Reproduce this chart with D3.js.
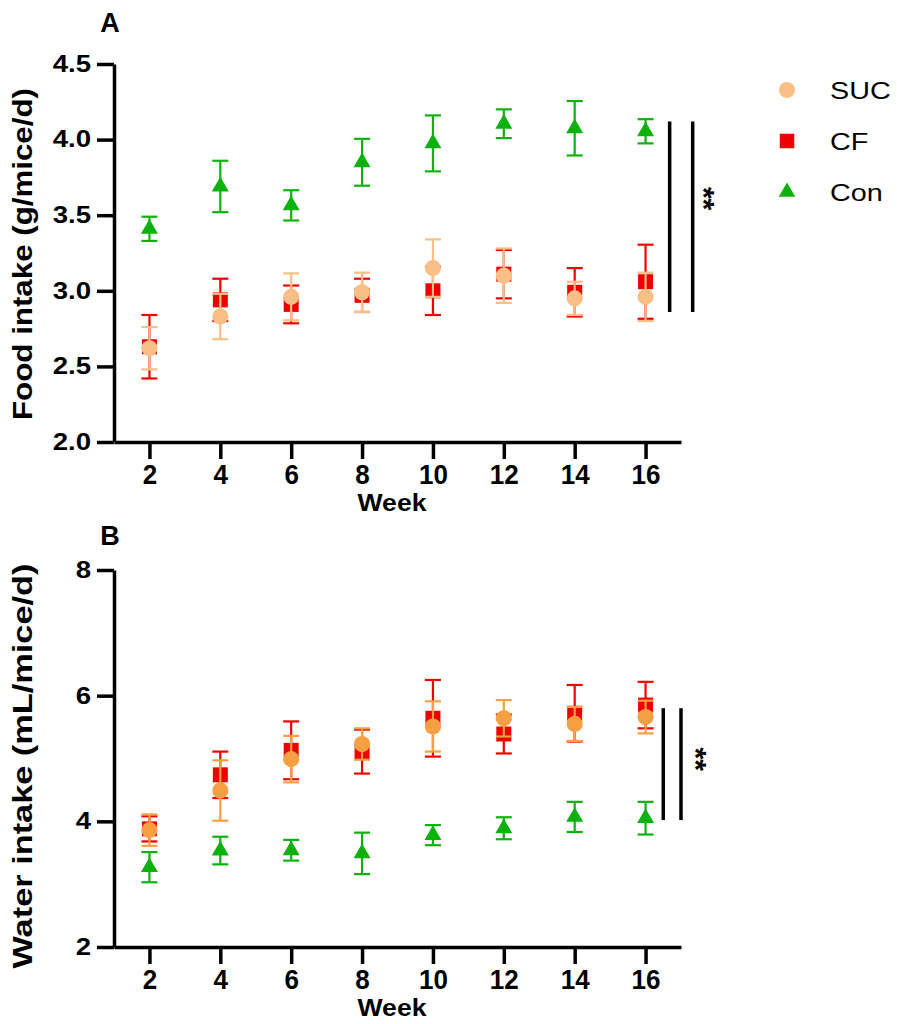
<!DOCTYPE html>
<html>
<head>
<meta charset="utf-8">
<script src="https://cdn.jsdelivr.net/npm/d3@7"></script>
<style>
  body { margin: 0; background: #fff; }
  text { font-family: "Liberation Sans", Arial, sans-serif; }
  .axis path, .axis line { stroke: #000; stroke-width: 3.5; }
  .axis text { font-weight: bold; fill: #000; }
</style>
</head>
<body>
<script>
// weeks on the x axis
var weeks = [2, 4, 6, 8, 10, 12, 14, 16];
var xTicks = [2, 4, 6, 8, 10, 12, 14, 16];

// panel A, food intake (g/mice/d), mean and error
var foodSUC    = [2.62, 2.83, 2.96, 2.99, 3.15, 3.10, 2.95, 2.96];
var foodSUCerr = [0.14, 0.15, 0.155, 0.13, 0.19, 0.18, 0.11, 0.16];
var foodCF     = [2.63, 2.94, 2.91, 2.97, 3.00, 3.11, 2.99, 3.06];
var foodCFerr  = [0.21, 0.14, 0.125, 0.11, 0.16, 0.16, 0.16, 0.245];
var foodCon    = [3.41, 3.69, 3.565, 3.85, 3.975, 4.105, 4.075, 4.055];
var foodConErr = [0.08, 0.17, 0.10, 0.155, 0.185, 0.095, 0.18, 0.08];
var foodTicks  = [2.0, 2.5, 3.0, 3.5, 4.0, 4.5];

// panel B, water intake (mL/mice/d), mean and error
var waterSUC    = [3.86, 4.49, 4.99, 5.23, 5.51, 5.64, 5.55, 5.66];
var waterSUCerr = [0.25, 0.48, 0.37, 0.25, 0.40, 0.29, 0.27, 0.26];
var waterCF     = [3.88, 4.74, 5.13, 5.11, 5.64, 5.39, 5.72, 5.85];
var waterCFerr  = [0.20, 0.37, 0.46, 0.35, 0.61, 0.31, 0.45, 0.37];
var waterCon    = [3.27, 3.535, 3.54, 3.49, 3.78, 3.89, 4.07, 4.05];
var waterConErr = [0.24, 0.22, 0.165, 0.33, 0.16, 0.175, 0.24, 0.26];
var waterTicks  = [2, 4, 6, 8];

var groups = ["SUC", "CF", "Con"];

var w = 897;
var h = 1024;

var svg = d3.select("body")
            .append("svg")
            .attr("width", w)
            .attr("height", h);

// colours
var sucLight = "#f9bf86";
var sucDark = "#f7a043";
var cfRed = "#ee0000";
var conGreen = "#0db10d";

function zip(means, errs) {
  return weeks.map(function(wk, i) {
    return {week: wk, mean: means[i], err: errs[i]};
  });
}

function drawGroup(g, x, y, data, colour, symbol, size) {
  var cap = 8;
  var bars = g.append("g")
              .attr("stroke", colour)
              .attr("stroke-width", 2.2);

  bars.selectAll(".vline")
      .data(data)
      .enter()
      .append("line")
      .attr("x1", function(d) { return x(d.week); })
      .attr("x2", function(d) { return x(d.week); })
      .attr("y1", function(d) { return y(d.mean + d.err); })
      .attr("y2", function(d) { return y(d.mean - d.err); });

  bars.selectAll(".top")
      .data(data)
      .enter()
      .append("line")
      .attr("x1", function(d) { return x(d.week) - cap; })
      .attr("x2", function(d) { return x(d.week) + cap; })
      .attr("y1", function(d) { return y(d.mean + d.err); })
      .attr("y2", function(d) { return y(d.mean + d.err); });

  bars.selectAll(".bottom")
      .data(data)
      .enter()
      .append("line")
      .attr("x1", function(d) { return x(d.week) - cap; })
      .attr("x2", function(d) { return x(d.week) + cap; })
      .attr("y1", function(d) { return y(d.mean - d.err); })
      .attr("y2", function(d) { return y(d.mean - d.err); });

  g.selectAll(".marker")
   .data(data)
   .enter()
   .append("path")
   .attr("d", d3.symbol().type(symbol).size(size))
   .attr("transform", function(d) {
      return "translate(" + x(d.week) + "," + y(d.mean) + ")";
   })
   .attr("fill", colour);
}

function drawPanel(opts) {
  var x = d3.scaleLinear()
            .domain([1, 17])
            .range([114, 681]);
  var y = d3.scaleLinear()
            .domain(opts.domain)
            .range([opts.bottom, opts.top]);

  // x axis, labels a bit condensed like the original
  var xAxis = svg.append("g")
     .attr("class", "axis")
     .attr("transform", "translate(0," + opts.bottom + ")")
     .call(d3.axisBottom(x).tickValues(xTicks).tickSize(17).tickPadding(5).tickSizeOuter(0));
  xAxis.selectAll("text")
       .style("font-size", "28px")
       .attr("transform", "scale(0.93,1)");

  // y axis, labels a bit wide
  var yAxis = svg.append("g")
     .attr("class", "axis")
     .attr("transform", "translate(114,0)")
     .call(d3.axisLeft(y).tickValues(opts.ticks).tickFormat(opts.format)
             .tickSize(17).tickPadding(6).tickSizeOuter(0));
  yAxis.selectAll("text")
       .style("font-size", "23px")
       .attr("x", -23 / 1.2)
       .attr("transform", "scale(1.2,1)");

  // axis titles
  svg.append("text")
     .attr("x", 392)
     .attr("y", opts.bottom + 69)
     .attr("text-anchor", "middle")
     .attr("textLength", 69)
     .attr("lengthAdjust", "spacingAndGlyphs")
     .style("font-size", "23px")
     .style("font-weight", "bold")
     .text("Week");

  svg.append("text")
     .attr("transform", "translate(32," + opts.titleY + ") rotate(-90)")
     .attr("text-anchor", "middle")
     .attr("textLength", opts.titleLength)
     .attr("lengthAdjust", "spacingAndGlyphs")
     .style("font-size", "27px")
     .style("font-weight", "bold")
     .text(opts.title);

  // panel letter
  svg.append("text")
     .attr("x", 110)
     .attr("y", opts.letterY)
     .attr("text-anchor", "middle")
     .style("font-size", "27px")
     .style("font-weight", "bold")
     .text(opts.letter);

  var marks = svg.append("g");
  drawGroup(marks.append("g"), x, y, opts.con, conGreen, d3.symbolTriangle, 125);
  drawGroup(marks.append("g"), x, y, opts.cf, cfRed, d3.symbolSquare, 225);
  drawGroup(marks.append("g"), x, y, opts.suc, opts.sucColour, d3.symbolCircle, 205);

  // significance bars
  var sig = opts.sig;
  [sig.x1, sig.x2].forEach(function(sx) {
    svg.append("line")
       .attr("x1", x(sx)).attr("x2", x(sx))
       .attr("y1", y(sig.y1)).attr("y2", y(sig.y2))
       .attr("stroke", "#000").attr("stroke-width", 3.5);
  });
  svg.append("text")
     .attr("transform", "translate(" + (x(sig.x2) + sig.starShift) + "," + y(sig.starY) + ") rotate(90)")
     .attr("text-anchor", "middle")
     .style("font-size", "30px")
     .style("font-weight", "bold")
     .text("**");
}

drawPanel({
  letter: "A",
  letterY: 32,
  title: "Food intake (g/mice/d)",
  titleY: 254,
  titleLength: 332,
  domain: [2.0, 4.5],
  ticks: foodTicks,
  format: d3.format(".1f"),
  top: 64,
  bottom: 442,
  suc: zip(foodSUC, foodSUCerr),
  cf: zip(foodCF, foodCFerr),
  con: zip(foodCon, foodConErr),
  sucColour: sucLight,
  sig: {x1: 16.68, x2: 17.33, y1: 4.12, y2: 2.86, starY: 3.61, starShift: 1}
});

drawPanel({
  letter: "B",
  letterY: 545,
  title: "Water intake (mL/mice/d)",
  titleY: 766,
  titleLength: 405,
  domain: [2, 8],
  ticks: waterTicks,
  format: d3.format("d"),
  top: 570,
  bottom: 947,
  suc: zip(waterSUC, waterSUCerr),
  cf: zip(waterCF, waterCFerr),
  con: zip(waterCon, waterConErr),
  sucColour: sucDark,
  sig: {x1: 16.5, x2: 17.0, y1: 5.8, y2: 4.02, starY: 4.99, starShift: 5}
});

// legend
var legend = svg.append("g")
                .attr("class", "legend")
                .attr("transform", "translate(787,90)");
var legendColours = [sucLight, cfRed, conGreen];
var legendSymbols = [d3.symbolCircle, d3.symbolSquare, d3.symbolTriangle];
var legendSizes = [200, 210, 120];

groups.forEach(function(name, i) {
  legend.append("path")
        .attr("d", d3.symbol().type(legendSymbols[i]).size(legendSizes[i]))
        .attr("transform", "translate(0," + (i * 51) + ")")
        .attr("fill", legendColours[i]);
  legend.append("text")
        .attr("x", 43 / 1.25)
        .attr("y", i * 51 + 9)
        .attr("transform", "scale(1.25,1)")
        .style("font-size", "23px")
        .text(name);
});
</script>
</body>
</html>
